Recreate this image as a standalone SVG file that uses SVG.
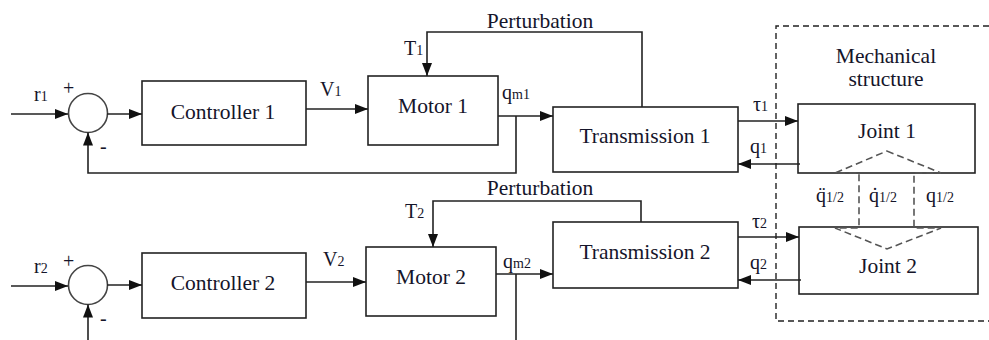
<svg xmlns="http://www.w3.org/2000/svg" width="989" height="340" viewBox="0 0 989 340">
<style>
.box{fill:#fff;stroke:#222;stroke-width:1.6}
.ln{fill:none;stroke:#222;stroke-width:1.6}
.arr{fill:none;stroke:#222;stroke-width:1.6;marker-end:url(#ah)}
.dash{fill:none;stroke:#222;stroke-width:1.4;stroke-dasharray:6 4}
.dash2{fill:none;stroke:#555;stroke-width:1.6;stroke-dasharray:7 4}
text{font-family:'Liberation Serif','DejaVu Serif','Times New Roman',serif;fill:#15152a}
.big{font-size:21.5px;text-anchor:middle}
.lb{font-size:20px}
.sb{font-size:14px}
</style>
<defs>
<marker id="ah" markerUnits="userSpaceOnUse" markerWidth="14" markerHeight="12" refX="13" refY="5" orient="auto">
<path d="M0,0 L13,5 L0,10 z" fill="#111"/>
</marker>
</defs>

<g id="mech-structure" font-family="Liberation Serif, DejaVu Serif, serif">
<path class="dash" d="M989,26 H776 V321 H989"/>
<text class="big" x="886" y="63">Mechanical</text>
<text class="big" x="886" y="86">structure</text>
</g>

<g id="sum1">
<circle cx="88" cy="113" r="19.5" fill="#fff" stroke="#444" stroke-width="1.6"/>
<text class="lb" x="63" y="95">+</text>
<text class="lb" x="100" y="153">-</text>
</g>
<g id="controller1"><rect class="box" x="142" y="81" width="164" height="64"/><text class="big" x="223" y="119">Controller 1</text></g>
<g id="motor1"><rect class="box" x="368" y="76" width="130" height="69"/><text class="big" x="433" y="113">Motor 1</text></g>
<g id="transmission1"><rect class="box" x="553" y="107" width="185" height="65"/><text class="big" x="645" y="143">Transmission 1</text></g>
<g id="joint1"><rect class="box" x="798" y="104" width="177" height="69"/><text class="big" x="887" y="138">Joint 1</text></g>

<g id="sum2">
<circle cx="88" cy="285" r="19.5" fill="#fff" stroke="#444" stroke-width="1.6"/>
<text class="lb" x="63" y="268">+</text>
<text class="lb" x="100" y="325">-</text>
</g>
<g id="controller2"><rect class="box" x="142" y="253" width="164" height="65"/><text class="big" x="223" y="290">Controller 2</text></g>
<g id="motor2"><rect class="box" x="366" y="247" width="130" height="69"/><text class="big" x="431" y="284">Motor 2</text></g>
<g id="transmission2"><rect class="box" x="553" y="222" width="185" height="66"/><text class="big" x="645" y="259">Transmission 2</text></g>
<g id="joint2"><rect class="box" x="799" y="227" width="179" height="67"/><text class="big" x="888" y="273">Joint 2</text></g>

<g id="connectors">
<path class="arr" d="M11,114 H68"/>
<path class="arr" d="M107,114 H142"/>
<path class="arr" d="M306,109 H368"/>
<path class="arr" d="M498,116 H553"/>
<path class="arr" d="M516,116 V173 H88 V132.5"/>
<path class="arr" d="M642,107 V32 H427 V76"/>
<path class="arr" d="M738,121 H798"/>
<path class="arr" d="M800,164 H738"/>
<path class="arr" d="M11,286 H68"/>
<path class="arr" d="M107,285 H142"/>
<path class="arr" d="M306,282 H366"/>
<path class="arr" d="M496,274 H553"/>
<path class="ln" d="M516,274 V340"/>
<path class="arr" d="M88,340 V304.5"/>
<path class="arr" d="M641,222 V201 H433 V247"/>
<path class="arr" d="M738,237 H799"/>
<path class="arr" d="M801,280 H738"/>
<path class="dash2" d="M887,151 L941,173 H914 V228 H941 L887,249 L835,228 H859 V173 H835 Z"/>
</g>

<g id="labels">
<text x="540" y="28" class="big">Perturbation</text>
<text x="540" y="195" class="big">Perturbation</text>
<text class="lb" x="34" y="101">r<tspan class="sb">1</tspan></text>
<text class="lb" x="34" y="273">r<tspan class="sb">2</tspan></text>
<text class="lb" x="320" y="96">V<tspan class="sb">1</tspan></text>
<text class="lb" x="323" y="266">V<tspan class="sb">2</tspan></text>
<text class="lb" x="404" y="55">T<tspan class="sb">1</tspan></text>
<text class="lb" x="405" y="218">T<tspan class="sb">2</tspan></text>
<text class="lb" x="502" y="99">q<tspan class="sb">m1</tspan></text>
<text class="lb" x="503" y="268">q<tspan class="sb">m2</tspan></text>
<text class="lb" x="753" y="111">τ<tspan class="sb">1</tspan></text>
<text class="lb" x="750" y="153">q<tspan class="sb">1</tspan></text>
<text class="lb" x="752" y="228">τ<tspan class="sb">2</tspan></text>
<text class="lb" x="750" y="269">q<tspan class="sb">2</tspan></text>
<text class="lb" x="816" y="202">q̈<tspan class="sb">1/2</tspan></text>
<text class="lb" x="869" y="202">q̇<tspan class="sb">1/2</tspan></text>
<text class="lb" x="926" y="202">q<tspan class="sb">1/2</tspan></text>
</g>
</svg>
